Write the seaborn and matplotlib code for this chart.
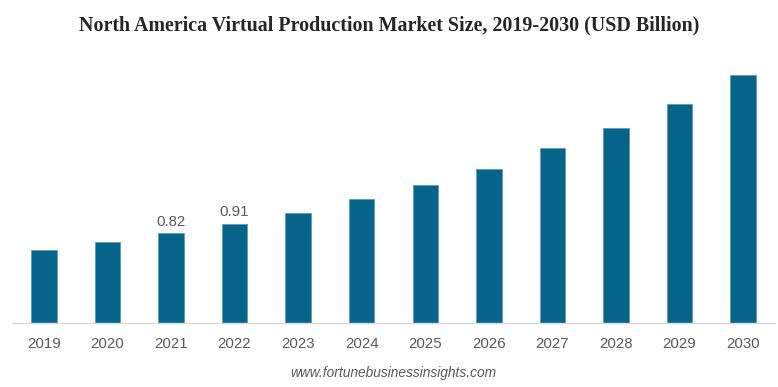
import pandas as pd
import matplotlib.pyplot as plt
import seaborn as sns

# data
years = ['2019', '2020', '2021', '2022', '2023', '2024', '2025',
         '2026', '2027', '2028', '2029', '2030']
market_size = [0.67, 0.74, 0.82, 0.91, 1.01, 1.13, 1.26,
               1.41, 1.60, 1.78, 2.00, 2.27]
shown_labels = ['', '', '0.82', '0.91', '', '', '', '', '', '', '', '']

df = pd.DataFrame({'year': years, 'size': market_size})

sns.set_style('white')
plt.rcParams['font.family'] = ['Liberation Sans', 'DejaVu Sans']

fig = plt.figure(figsize=(7.78, 3.87), dpi=100)
ax = fig.add_axes([12 / 778, (387 - 323) / 387, 763 / 778, 263 / 387])

sns.barplot(data=df, x='year', y='size', color='#05648a', width=0.4,
            saturation=1, ax=ax, edgecolor='#5f9bb5', linewidth=0.6)

ax.bar_label(ax.containers[0], labels=shown_labels, padding=3,
             fontsize=10.8, color='#595959')

ax.set_xlim(-0.5, 11.5)
ax.set_ylim(0, 263 / 109.3)
ax.set_xlabel('')
ax.set_ylabel('')
ax.set_yticks([])
ax.tick_params(axis='x', length=0, pad=10, labelsize=10.8, labelcolor='#595959')

for side in ['top', 'right', 'left']:
    ax.spines[side].set_visible(False)
ax.spines['bottom'].set_color('#d9d9d9')
ax.spines['bottom'].set_linewidth(1)

fig.text(0.5, 1 - 25 / 387, 'North America Virtual Production Market Size, 2019-2030 (USD Billion)',
         ha='center', va='center', fontsize=14.4, fontweight='bold',
         family='Liberation Serif', color='#262626')
fig.text(0.505, 1 - 373 / 387, 'www.fortunebusinessinsights.com',
         ha='center', va='center', fontsize=9.9, style='italic', color='#595959')

plt.savefig('out.png', dpi=100)
